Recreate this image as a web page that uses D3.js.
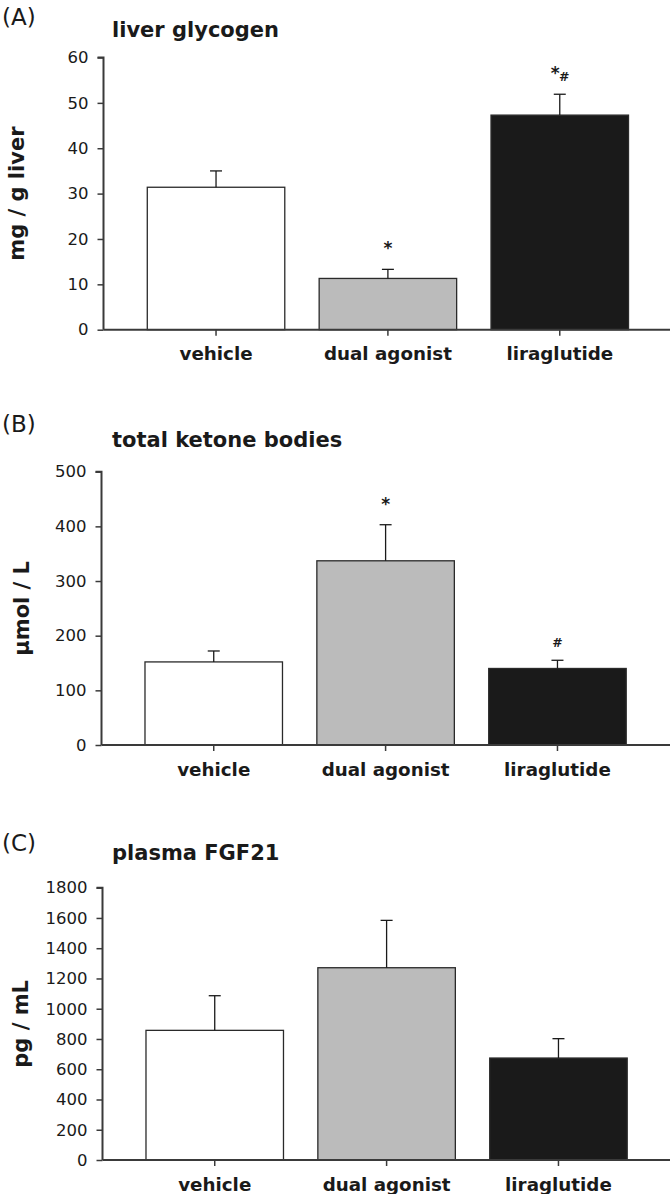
<!DOCTYPE html>
<html>
<head>
<meta charset="utf-8">
<script src="https://cdn.jsdelivr.net/npm/d3@7"></script>
<style>
  html, body { margin: 0; padding: 0; background: #ffffff; }
  svg { display: block; }
  text { font-family: "DejaVu Sans", sans-serif; fill: #1a1a1a; }
</style>
</head>
<body>
<svg id="chart" width="672" height="1194"></svg>
<script>
// ---- data ----
const categories = ["vehicle", "dual agonist", "liraglutide"];

const glycogenMean = [31.4, 11.3, 47.3];
const glycogenErr  = [3.6, 2.0, 4.6];
const glycogenSig  = ["", "*", "*#"];
const glycogenTicks = [0, 10, 20, 30, 40, 50, 60];

const ketoneMean = [152, 337, 140];
const ketoneErr  = [20, 66, 15];
const ketoneSig  = ["", "*", "#"];
const ketoneTicks = [0, 100, 200, 300, 400, 500];

const fgf21Mean = [857, 1271, 674];
const fgf21Err  = [229, 313, 128];
const fgf21Sig  = ["", "", ""];
const fgf21Ticks = [0, 200, 400, 600, 800, 1000, 1200, 1400, 1600, 1800];

const panelLetters = ["(A)", "(B)", "(C)"];
const panelTitles = ["liver glycogen", "total ketone bodies", "plasma FGF21"];
const yLabels = ["mg / g liver", "\u00b5mol / L", "pg / mL"];

const barColors = ["#ffffff", "#bbbbbb", "#1a1a1a"];

// ---- layout (positions only) ----
const panels = [
  { mean: glycogenMean, err: glycogenErr, sig: glycogenSig, ticks: glycogenTicks,
    axisX: 103.5, yTop: 57.5, yBot: 329.7, xStart: 130.1,
    letterY: 25, titleY: 37, yLabX: 24 },
  { mean: ketoneMean, err: ketoneErr, sig: ketoneSig, ticks: ketoneTicks,
    axisX: 101.5, yTop: 471.7, yBot: 745, xStart: 127.8,
    letterY: 432, titleY: 447, yLabX: 28.5 },
  { mean: fgf21Mean, err: fgf21Err, sig: fgf21Sig, ticks: fgf21Ticks,
    axisX: 102.5, yTop: 887.7, yBot: 1160, xStart: 128.8,
    letterY: 851, titleY: 860, yLabX: 28 }
];

const svg = d3.select("#chart");
const axisColor = "#3a3a3a";

panels.forEach((p, i) => {
  const g = svg.append("g");
  const y = d3.scaleLinear()
    .domain([0, p.ticks[p.ticks.length - 1]])
    .range([p.yBot, p.yTop]);
  const x = d3.scaleBand()
    .domain(categories)
    .range([p.xStart, p.xStart + 515.6])
    .paddingInner(0.2)
    .paddingOuter(0.1);

  // panel letter and title
  g.append("text").attr("x", 2).attr("y", p.letterY)
    .attr("font-size", 23).text(panelLetters[i]);
  g.append("text").attr("x", 112).attr("y", p.titleY)
    .attr("font-size", 21).attr("font-weight", "bold").text(panelTitles[i]);

  // y axis label
  g.append("text")
    .attr("transform", `translate(${p.yLabX},${(p.yTop + p.yBot) / 2}) rotate(-90)`)
    .attr("text-anchor", "middle")
    .attr("font-size", 21).attr("font-weight", "bold")
    .text(yLabels[i]);

  // bars
  const bw = x.bandwidth();
  g.selectAll("rect.bar").data(p.mean).enter().append("rect")
    .attr("class", "bar")
    .attr("x", (d, j) => x(categories[j]))
    .attr("y", d => y(d))
    .attr("width", bw)
    .attr("height", d => y(0) - y(d))
    .attr("fill", (d, j) => barColors[j])
    .attr("stroke", "#2a2a2a")
    .attr("stroke-width", 1.3);

  // error bars
  p.mean.forEach((m, j) => {
    const cx = x(categories[j]) + bw / 2;
    const top = y(m + p.err[j]);
    g.append("line").attr("x1", cx).attr("x2", cx)
      .attr("y1", y(m)).attr("y2", top)
      .attr("stroke", "#1a1a1a").attr("stroke-width", 1.3);
    g.append("line").attr("x1", cx - 6).attr("x2", cx + 6)
      .attr("y1", top).attr("y2", top)
      .attr("stroke", "#1a1a1a").attr("stroke-width", 1.3);

    const s = p.sig[j];
    if (s === "*") {
      g.append("text").attr("x", cx).attr("y", top - 15)
        .attr("text-anchor", "middle").attr("font-size", 17).attr("font-weight", "bold").text("*");
    } else if (s === "#") {
      g.append("text").attr("x", cx).attr("y", top - 13)
        .attr("text-anchor", "middle").attr("font-size", 12.5).attr("font-weight", "bold").text("#");
    } else if (s === "*#") {
      g.append("text").attr("x", cx - 4.5).attr("y", top - 15)
        .attr("text-anchor", "middle").attr("font-size", 17).attr("font-weight", "bold").text("*");
      g.append("text").attr("x", cx + 4.5).attr("y", top - 13)
        .attr("text-anchor", "middle").attr("font-size", 12.5).attr("font-weight", "bold").text("#");
    }
  });

  // y axis
  const yAxis = d3.axisLeft(y).tickValues(p.ticks).tickSize(6).tickPadding(9)
    .tickFormat(d3.format("d"));
  const ya = g.append("g").attr("transform", `translate(${p.axisX},0)`).call(yAxis);
  ya.select(".domain").attr("stroke", axisColor).attr("stroke-width", 2)
    .attr("d", `M-6,${p.yTop}H0V${p.yBot}`);
  ya.selectAll(".tick line").attr("stroke", axisColor).attr("stroke-width", 1.5);
  ya.selectAll(".tick text").attr("font-size", 16.5).attr("fill", "#1a1a1a")
    .attr("font-family", "DejaVu Sans, sans-serif");

  // x axis
  const xAxis = d3.axisBottom(x).tickSize(6).tickPadding(0).tickSizeOuter(0);
  const xa = g.append("g").attr("transform", `translate(0,${p.yBot})`).call(xAxis);
  xa.select(".domain").attr("stroke", axisColor).attr("stroke-width", 2)
    .attr("d", `M${p.axisX},0H670`);
  xa.selectAll(".tick line").attr("stroke", axisColor).attr("stroke-width", 1.5);
  xa.selectAll(".tick text").attr("font-size", 18.3).attr("font-weight", "bold")
    .attr("fill", "#1a1a1a").attr("font-family", "DejaVu Sans, sans-serif")
    .attr("dy", null).attr("y", 30.5);
});
</script>
</body>
</html>
